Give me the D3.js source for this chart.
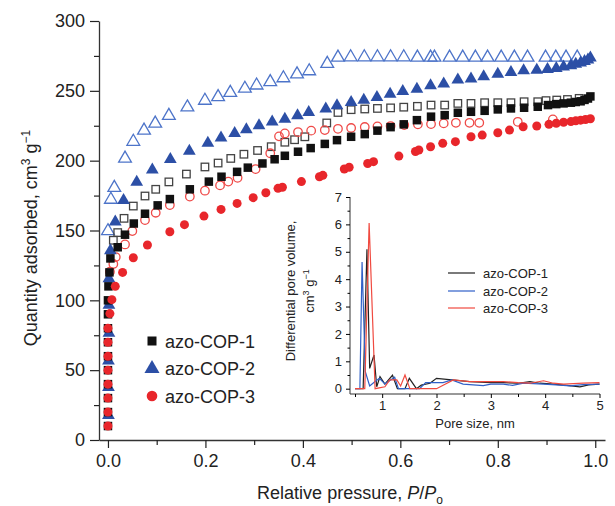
<!DOCTYPE html>
<html><head><meta charset="utf-8">
<script src="https://cdn.jsdelivr.net/npm/d3@7"></script>
<style>body{margin:0;background:#fff}svg{display:block}text{font-family:"Liberation Sans",Arial,Helvetica,sans-serif;fill:#222}</style>
</head><body><svg id="c" width="615" height="506"></svg>
<script>
// ---------- data ----------
const seriesNames = ["azo-COP-1","azo-COP-2","azo-COP-3"];
const xTicks = [0,0.2,0.4,0.6,0.8,1.0];
const yTicks = [0,50,100,150,200,250,300];
const insetXTicks = [1,2,3,4,5];
const insetYTicks = [0,1,2,3,4,5,6,7];

const cop1Ads = [[0,10],[0,20],[0,30],[0,40],[0,50],[0,60],[0,70],[0,80],[0,90],[0,100],[0.001,110],[0.003,120],[0.005,130],[0.02,138],[0.035,147],[0.053,155],[0.076,162],[0.102,168],[0.127,172.5],[0.168,179.5],[0.207,185],[0.233,188.5],[0.265,192],[0.287,195],[0.317,198],[0.342,201],[0.363,203.5],[0.39,206.4],[0.416,209],[0.445,212],[0.47,214.7],[0.499,217.1],[0.527,219],[0.553,221.5],[0.58,224],[0.607,226],[0.634,229],[0.663,231.5],[0.691,232.6],[0.718,234.3],[0.745,235],[0.773,235.7],[0.8,236.7],[0.827,237.4],[0.854,237.9],[0.882,238.6],[0.903,239.8],[0.92,240.5],[0.935,241],[0.95,241.5],[0.96,242],[0.97,242.5],[0.978,243.5],[0.985,244.5],[0.99,246]];
const cop1Des = [[0.011,143],[0.02,148.5],[0.033,158.7],[0.052,167.5],[0.076,174.7],[0.098,179.5],[0.125,184.8],[0.161,190.4],[0.199,195.5],[0.226,198.3],[0.252,201.6],[0.279,204.6],[0.307,207.3],[0.335,210],[0.363,213.2],[0.383,215],[0.404,217.1],[0.449,227],[0.472,234.5],[0.499,236.5],[0.527,237],[0.553,237.4],[0.58,237.8],[0.607,238.3],[0.635,238.9],[0.663,239.8],[0.691,239.8],[0.718,241],[0.745,241],[0.773,241.5],[0.8,241.5],[0.827,241.5],[0.854,242.2],[0.882,242.2],[0.899,243],[0.921,243.4],[0.943,243.8],[0.967,244.6]];
const cop2Ads = [[0.001,18],[0.001,38],[0.001,57],[0.002,77],[0.002,97],[0.002,116],[0.005,136],[0.015,156.5],[0.032,172],[0.059,185],[0.091,193.8],[0.128,201.3],[0.167,207.3],[0.205,213],[0.232,216.7],[0.26,220],[0.284,222.7],[0.31,225.5],[0.337,228.2],[0.363,230.2],[0.389,232.6],[0.412,235],[0.447,237.4],[0.47,239.8],[0.499,242.2],[0.525,243.8],[0.552,245.8],[0.579,248.1],[0.605,250],[0.634,251.7],[0.662,254.1],[0.689,255.3],[0.718,258.2],[0.745,258.9],[0.771,260.6],[0.8,262.4],[0.827,263.6],[0.853,264.8],[0.88,265.3],[0.902,265.8],[0.92,266.5],[0.935,267.5],[0.95,268.5],[0.96,269.5],[0.97,270.5],[0.978,271.5],[0.985,272.5],[0.99,274]];
const cop2Des = [[0.0,150],[0.006,172.5],[0.013,181],[0.035,202],[0.052,214],[0.074,222],[0.097,227],[0.125,232.6],[0.163,238.6],[0.199,243.4],[0.226,246],[0.251,249],[0.281,252],[0.305,254.3],[0.333,256.7],[0.36,259.5],[0.388,262.3],[0.413,264.5],[0.45,269.8],[0.472,274.3],[0.498,274.5],[0.526,274.5],[0.553,274.5],[0.58,274.5],[0.607,274.5],[0.635,274.3],[0.662,274.3],[0.67,274.3],[0.701,274.3],[0.728,274.3],[0.754,274.3],[0.779,274.3],[0.807,274.3],[0.834,274.3],[0.861,274.3],[0.898,274.3],[0.919,274.3],[0.94,274.3],[0.963,274.3]];
const cop3Ads = [[0,10],[0,20],[0,30],[0,40],[0,50],[0,60],[0,70],[0,80],[0.004,90.5],[0.008,100.5],[0.015,110],[0.03,120],[0.052,130.5],[0.081,139.6],[0.127,149.1],[0.157,154.2],[0.197,160.3],[0.232,165.1],[0.265,169.4],[0.298,173.5],[0.324,177],[0.349,180.2],[0.358,181],[0.397,185],[0.434,188.5],[0.441,189.5],[0.485,194],[0.495,195.3],[0.533,198],[0.545,199.3],[0.597,203.3],[0.631,206.6],[0.638,207.6],[0.662,210],[0.687,212.4],[0.713,213.6],[0.745,217.1],[0.768,218.3],[0.8,220],[0.824,221.9],[0.852,224.3],[0.88,224.8],[0.905,226],[0.92,226.8],[0.935,227.5],[0.95,228],[0.96,228.5],[0.97,229],[0.98,229.5],[0.99,230]];
const cop3Des = [[0.004,120.5],[0.011,126],[0.016,131],[0.035,140],[0.05,149.6],[0.076,157.5],[0.098,162.7],[0.127,168.2],[0.168,174.3],[0.199,178.5],[0.23,182.3],[0.247,185],[0.266,187.7],[0.303,194],[0.333,205.3],[0.351,217.4],[0.363,219.5],[0.39,220.5],[0.417,221.5],[0.445,221.9],[0.472,222.8],[0.499,223.4],[0.527,224.1],[0.553,224.5],[0.58,224.8],[0.608,225.5],[0.636,226],[0.663,226.2],[0.689,226.7],[0.714,227.1],[0.742,227.1],[0.762,227.1],[0.841,227.8],[0.913,229.5]];

const psd1 = [[0.5,0],[0.65,0],[0.72,5.09],[0.77,0.74],[0.85,1.23],[0.9,0.07],[0.96,0.44],[1.05,0.17],[1.19,0.49],[1.28,0],[1.42,0],[1.5,0.38],[1.63,0],[1.72,0.13],[1.88,0.2],[2.0,0.38],[2.28,0.32],[2.61,0.26],[3.0,0.22],[3.23,0.22],[3.5,0.2],[3.72,0.26],[3.9,0.2],[4.15,0.17],[4.4,0.12],[4.64,0.07],[4.8,0.14],[5.0,0.17]];
const psd2 = [[0.5,0],[0.59,0],[0.63,4.63],[0.69,0.62],[0.77,0.1],[0.87,0.26],[0.95,0.38],[1.05,0.17],[1.23,0.42],[1.3,0],[1.69,0],[1.8,0.22],[2.12,0.22],[2.28,0.32],[2.49,0.17],[2.86,0.11],[3.0,0.17],[3.23,0.17],[3.4,0.12],[3.6,0.2],[3.97,0.17],[4.2,0.14],[4.46,0.1],[4.7,0.15],[5.0,0.17]];
const psd3 = [[0.5,0],[0.68,0],[0.76,6.05],[0.87,0],[1.05,0.07],[1.14,0.32],[1.27,0.32],[1.34,0.1],[1.42,0.5],[1.51,0],[2.0,0],[2.31,0.32],[2.61,0.26],[3.0,0.26],[3.23,0.26],[3.5,0.22],[3.72,0.2],[3.97,0.29],[4.15,0.2],[4.34,0.17],[4.7,0.2],[5.0,0.22]];

// ---------- styles ----------
const cBlack = "#111111", cBlue = "#2c4fa6", cBlueOpen = "#4d74c9", cRed = "#e8262b", cRedOpen = "#ef4a48";
const font = '"Liberation Sans",Arial,Helvetica,sans-serif';

const svg = d3.select("#c");
const x = d3.scaleLinear().domain([-0.0184, 1.02]).range([99, 605]);
const y = d3.scaleLinear().domain([0, 300]).range([440, 21]);

// axes
const gx = svg.append("g").attr("transform","translate(0,440)")
  .call(d3.axisBottom(x).tickValues(xTicks).tickFormat(d3.format(".1f")).tickSize(8).tickSizeOuter(0).tickPadding(6));
svg.append("g").attr("transform","translate(0,440)")
  .call(d3.axisBottom(x).tickValues([0.1,0.3,0.5,0.7,0.9]).tickFormat("").tickSize(5).tickSizeOuter(0))
  .select(".domain").remove();
const gy = svg.append("g").attr("transform","translate(99,0)")
  .call(d3.axisLeft(y).tickValues(yTicks).tickSize(9).tickSizeOuter(0).tickPadding(5));
svg.append("g").attr("transform","translate(99,0)")
  .call(d3.axisLeft(y).tickValues([25,75,125,175,225,275]).tickFormat("").tickSize(5).tickSizeOuter(0))
  .select(".domain").remove();
svg.selectAll(".domain").attr("stroke","#222").attr("stroke-width",1.3);
svg.selectAll(".tick line").attr("stroke","#222").attr("stroke-width",1.2);
gx.selectAll("text").attr("font-size",18).attr("font-family",font).attr("fill","#222");
gy.selectAll("text").attr("font-size",18).attr("font-family",font).attr("fill","#222");

// axis titles
const yt = svg.append("text").attr("transform","translate(37,238) rotate(-90)").attr("text-anchor","middle").attr("font-size",18);
yt.append("tspan").text("Quantity adsorbed, cm");
yt.append("tspan").attr("dy",-7).attr("font-size",12).text("3");
yt.append("tspan").attr("dy",7).text(" g");
yt.append("tspan").attr("dy",-7).attr("font-size",12).text("\u22121");
const xt = svg.append("text").attr("x",350).attr("y",499).attr("text-anchor","middle").attr("font-size",18);
xt.append("tspan").text("Relative pressure, ");
xt.append("tspan").attr("font-style","italic").text("P");
xt.append("tspan").text("/");
xt.append("tspan").attr("font-style","italic").text("P");
xt.append("tspan").attr("dy",5).attr("font-size",12).text("o");

// marker shapes
const tri = (s) => `M0,${-s*0.62}L${s*0.58},${s*0.38}L${-s*0.58},${s*0.38}Z`;
function drawPts(data, kind, fill, stroke, size){
  const g = svg.append("g");
  data.forEach(d => {
    const px = x(d[0]), py = y(d[1]);
    let el;
    if(kind==="sq") el = g.append("rect").attr("x",px-size/2).attr("y",py-size/2).attr("width",size).attr("height",size);
    else if(kind==="tri") el = g.append("path").attr("d",tri(size)).attr("transform",`translate(${px},${py})`);
    else el = g.append("circle").attr("cx",px).attr("cy",py).attr("r",size/2);
    el.attr("fill",fill).attr("stroke",stroke).attr("stroke-width", fill==="none"?1.3:0);
  });
}
// open (desorption) first, filled on top
drawPts(cop2Des,"tri","none",cBlueOpen,11);
drawPts(cop1Des,"sq","none","#444",7.5);
drawPts(cop3Des,"circ","none",cRedOpen,8.5);
drawPts(cop2Ads,"tri",cBlue,null,11);
drawPts(cop1Ads,"sq",cBlack,null,8.5);
drawPts(cop3Ads,"circ",cRed,null,9);

// legend
const legY = [341,368,396];
const lg = svg.append("g");
lg.append("rect").attr("x",152-4.5).attr("y",legY[0]-4.5).attr("width",9).attr("height",9).attr("fill",cBlack);
lg.append("path").attr("d",tri(13)).attr("transform",`translate(152,${legY[1]})`).attr("fill",cBlue);
lg.append("circle").attr("cx",152).attr("cy",legY[2]).attr("r",5.3).attr("fill",cRed);
seriesNames.forEach((n,i)=>lg.append("text").attr("x",165).attr("y",legY[i]+6.5).attr("font-size",18).text(n));

// ---------- inset ----------
const ix = d3.scaleLinear().domain([0.5,5]).range([355, 599.5]);
const iy = d3.scaleLinear().domain([0,7]).range([388.7, 197]);
const igx = svg.append("g").attr("transform","translate(0,394)")
  .call(d3.axisBottom(ix).tickValues(insetXTicks).tickFormat(d3.format("d")).tickSize(4).tickSizeOuter(0).tickPadding(3));
svg.append("g").attr("transform","translate(0,394)")
  .call(d3.axisBottom(ix).tickValues([0.5,1.5,2.5,3.5,4.5]).tickFormat("").tickSize(3).tickSizeOuter(0))
  .select(".domain").remove();
igx.select(".domain").attr("d","M350,0H600");
const igy = svg.append("g").attr("transform","translate(350,0)")
  .call(d3.axisLeft(iy).tickValues(insetYTicks).tickFormat(d3.format("d")).tickSize(4).tickSizeOuter(0).tickPadding(4));
svg.append("g").attr("transform","translate(350,0)")
  .call(d3.axisLeft(iy).tickValues([0.5,1.5,2.5,3.5,4.5,5.5,6.5]).tickFormat("").tickSize(2.5).tickSizeOuter(0))
  .select(".domain").remove();
igy.select(".domain").attr("d","M0,197V394");
svg.selectAll(".domain").attr("stroke","#333").attr("fill","none");
igx.selectAll(".domain").attr("stroke-width",1);
igy.selectAll(".domain").attr("stroke-width",1);
igx.selectAll("text").attr("font-size",13).attr("font-family",font).attr("fill","#222");
igy.selectAll("text").attr("font-size",13).attr("font-family",font).attr("fill","#222");

const line = d3.line().x(d=>ix(d[0])).y(d=>iy(d[1]));
[[psd1,"#222"],[psd2,"#3060c8"],[psd3,"#f04a40"]].forEach(([d,c])=>
  svg.append("path").datum(d).attr("d",line).attr("fill","none").attr("stroke",c).attr("stroke-width",1.2));

svg.append("text").attr("x",475).attr("y",428).attr("text-anchor","middle").attr("font-size",13).text("Pore size, nm");
svg.append("text").attr("transform","translate(295,291) rotate(-90)").attr("text-anchor","middle").attr("font-size",13).text("Differential pore volume,");
const iyt = svg.append("text").attr("transform","translate(314,291) rotate(-90)").attr("text-anchor","middle").attr("font-size",13);
iyt.append("tspan").text("cm");
iyt.append("tspan").attr("dy",-5).attr("font-size",9).text("3");
iyt.append("tspan").attr("dy",5).text(" g");
iyt.append("tspan").attr("dy",-5).attr("font-size",9).text("\u22121");

const ilegY = [273,291,308];
const ilegC = ["#222","#3060c8","#f04a40"];
seriesNames.forEach((n,i)=>{
  svg.append("line").attr("x1",448).attr("x2",475).attr("y1",ilegY[i]).attr("y2",ilegY[i]).attr("stroke",ilegC[i]).attr("stroke-width",1.2);
  svg.append("text").attr("x",483).attr("y",ilegY[i]+4.5).attr("font-size",13).text(n);
});
</script></body></html>
